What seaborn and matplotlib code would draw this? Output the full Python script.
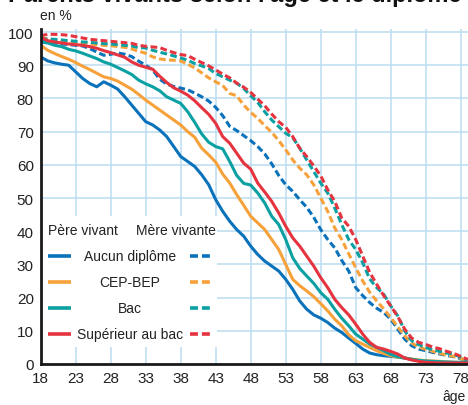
import numpy as np
import pandas as pd
import matplotlib
matplotlib.use("Agg")
import matplotlib.pyplot as plt
import seaborn as sns
from matplotlib.patches import Rectangle
from matplotlib import font_manager

ages = list(range(18, 80))

pere_aucun = [92.5, 91.3, 90.7, 90.3, 90.0, 88.0, 86.0, 84.5, 83.5, 85.0, 84.0, 82.8, 80.5, 78.0, 75.5, 73.0,
              72.0, 70.5, 68.5, 65.5, 62.5, 61.0, 59.5, 57.0, 54.0, 49.5, 46.0, 43.0, 40.5, 38.5, 35.5, 33.0,
              31.0, 29.5, 28.0, 25.5, 22.5, 19.0, 16.5, 14.8, 13.8, 12.5, 10.8, 9.5, 7.8, 6.2, 4.5, 3.3,
              2.8, 2.5, 2.3, 2.1, 1.8, 1.4, 1.0, 0.8, 0.7, 0.6, 0.5, 0.5, 0.4, 0.3]
pere_cep = [96.0, 94.5, 93.5, 92.6, 91.8, 90.8, 89.7, 88.7, 87.6, 86.5, 86.0, 85.2, 84.0, 82.8, 81.2, 79.5,
            78.0, 76.5, 75.0, 73.5, 72.0, 70.0, 68.3, 65.0, 63.0, 60.8, 57.2, 54.5, 51.0, 47.8, 44.5, 42.5,
            40.5, 37.5, 34.5, 30.0, 25.5, 23.6, 22.0, 20.3, 18.2, 16.0, 13.5, 11.5, 8.8, 7.0, 6.0, 5.0,
            4.0, 3.2, 2.5, 2.1, 1.8, 1.5, 1.2, 1.0, 0.9, 0.8, 0.6, 0.5, 0.5, 0.4]
pere_bac = [97.0, 96.7, 96.0, 95.6, 94.8, 94.3, 93.6, 92.8, 92.0, 91.0, 90.3, 89.3, 88.3, 87.2, 85.5, 84.4,
            83.5, 82.3, 80.5, 79.5, 78.5, 76.0, 72.8, 69.3, 66.8, 65.5, 64.8, 61.0, 56.8, 54.4, 53.9, 51.5,
            48.5, 44.5, 42.0, 37.5, 32.0, 28.8, 26.5, 24.3, 21.5, 19.5, 16.5, 13.8, 11.5, 9.0, 7.5, 6.0,
            5.0, 4.0, 2.9, 2.2, 1.8, 1.4, 1.1, 0.9, 0.8, 0.7, 0.6, 0.5, 0.5, 0.4]
pere_sup = [98.4, 97.4, 97.0, 96.7, 96.4, 96.2, 96.0, 95.6, 95.1, 94.4, 93.8, 93.1, 92.4, 91.0, 90.0, 89.4,
            88.8, 86.7, 84.8, 83.2, 82.2, 81.0, 79.3, 77.2, 75.2, 72.5, 68.5, 66.5, 63.5, 60.5, 58.7, 54.5,
            51.8, 49.0, 45.5, 41.5, 38.0, 35.5, 32.5, 29.5, 26.0, 23.0, 19.5, 17.0, 14.8, 12.0, 9.0, 6.5,
            5.0, 4.5, 3.8, 3.0, 1.8, 1.2, 0.8, 0.5, 0.4, 0.3, 0.3, 0.3, 0.3, 0.3]

mere_aucun = [97.4, 97.0, 96.7, 96.4, 96.2, 96.0, 95.8, 95.0, 94.0, 93.0, 93.3, 93.7, 93.3, 92.6, 91.2, 90.0,
              88.5, 85.8, 84.3, 83.6, 83.1, 82.6, 81.6, 80.5, 79.2, 77.3, 74.8, 71.6, 70.3, 68.8, 67.3, 65.5,
              63.3, 60.3, 56.8, 54.0, 52.0, 49.5, 47.2, 44.2, 40.5, 37.5, 35.0, 31.2, 28.0, 23.0, 20.6, 18.5,
              16.8, 15.5, 13.5, 10.5, 7.5, 5.5, 4.5, 4.0, 3.5, 3.0, 2.6, 2.2, 1.6, 1.0]
mere_cep = [98.3, 97.9, 97.5, 97.2, 96.9, 96.7, 96.5, 96.4, 96.2, 96.0, 95.9, 95.6, 95.4, 94.9, 94.2, 93.6,
            92.5, 91.9, 91.6, 91.5, 91.3, 90.3, 89.2, 87.7, 86.2, 85.0, 83.9, 81.5, 80.8, 78.0, 75.8, 74.0,
            71.8, 69.8, 67.3, 64.5, 61.5, 59.0, 57.0, 54.0, 50.0, 46.0, 41.0, 37.5, 33.2, 29.0, 25.0, 21.6,
            19.0, 16.6, 14.0, 11.2, 8.5, 6.3, 5.1, 4.4, 3.8, 3.2, 2.7, 2.3, 1.7, 1.0]
mere_bac = [97.9, 97.9, 97.8, 97.6, 97.4, 97.2, 97.0, 96.9, 96.7, 96.5, 96.4, 96.2, 96.0, 95.8, 95.3, 95.2,
            94.5, 93.9, 93.4, 92.8, 92.2, 91.5, 90.5, 89.8, 89.0, 87.5, 86.5, 85.5, 84.6, 83.0, 80.8, 78.8,
            76.0, 73.5, 71.5, 69.5, 68.2, 65.0, 61.5, 58.0, 54.5, 51.5, 47.0, 42.0, 37.5, 34.5, 30.5, 25.6,
            23.0, 21.0, 17.5, 14.5, 10.0, 7.0, 5.8, 5.0, 4.3, 3.8, 3.3, 3.0, 2.0, 1.0]
mere_sup = [98.9, 99.3, 99.3, 99.2, 99.0, 98.6, 98.2, 97.8, 97.6, 97.4, 97.2, 97.0, 96.8, 96.6, 96.0, 95.7,
            95.5, 95.3, 94.5, 93.8, 93.2, 92.9, 91.8, 90.8, 89.8, 88.6, 87.3, 86.2, 84.6, 83.4, 81.8, 79.8,
            77.8, 75.3, 73.0, 71.3, 68.5, 65.0, 62.5, 59.7, 56.7, 52.5, 49.0, 44.0, 41.5, 37.5, 32.5, 27.6,
            24.0, 20.6, 17.5, 14.3, 10.5, 7.8, 6.5, 5.9, 5.1, 4.6, 3.8, 3.2, 2.3, 1.4]

diplomes = ["Aucun diplôme", "CEP-BEP", "Bac", "Supérieur au bac"]
parents = ["Père vivant", "Mère vivante"]
x_ticks = list(range(18, 79, 5))
y_ticks = list(range(0, 101, 10))

colors = ["#0a72ba", "#f7a13b", "#0ba0a2", "#e5343f"]

series = {
    ("Père vivant", "Aucun diplôme"): pere_aucun,
    ("Père vivant", "CEP-BEP"): pere_cep,
    ("Père vivant", "Bac"): pere_bac,
    ("Père vivant", "Supérieur au bac"): pere_sup,
    ("Mère vivante", "Aucun diplôme"): mere_aucun,
    ("Mère vivante", "CEP-BEP"): mere_cep,
    ("Mère vivante", "Bac"): mere_bac,
    ("Mère vivante", "Supérieur au bac"): mere_sup,
}
rows = []
for (p, d), vals in series.items():
    for a, v in zip(ages, vals):
        rows.append({"age": a, "val": v, "parent": p, "diplome": d})
df = pd.DataFrame(rows)

sns.set_style("white")
installed = {f.name for f in font_manager.fontManager.ttflist}
fam = [f for f in ["Liberation Sans Narrow", "Liberation Sans"] if f in installed] + ["DejaVu Sans"]
plt.rcParams["font.family"] = fam

fig = plt.figure(figsize=(4.68, 4.06), dpi=100)
ax = fig.add_axes([40.7 / 468, 1 - 365 / 406, 1 - 40.7 / 468, (365 - 29.7) / 406])

palette = dict(zip(diplomes, colors))
dash = (2.2, 1.1)
sns.lineplot(data=df, x="age", y="val", hue="diplome", style="parent",
             palette=palette, hue_order=diplomes, style_order=parents,
             dashes={"Père vivant": "", "Mère vivante": dash},
             linewidth=2.2, legend=False, ax=ax, zorder=3)

ax.set_xlim(18, 79.04)
ax.set_ylim(0, 101)
ax.set_xticks(x_ticks)
ax.set_yticks(y_ticks)
ax.grid(True, color="#bcdcf1", linewidth=1.1)
ax.set_axisbelow(True)
for s in ["top", "right"]:
    ax.spines[s].set_visible(False)
for s in ["left", "bottom"]:
    ax.spines[s].set_color("#1a1a1a")
    ax.spines[s].set_linewidth(2.0)
    ax.spines[s].set_zorder(5)
ax.tick_params(axis="both", length=0, labelsize=11, colors="#222222", pad=5)
ax.set_xlabel("")
ax.set_ylabel("")

# legend box
ax.add_patch(Rectangle((0.0, 0.05), 0.412, 0.391, transform=ax.transAxes,
                       facecolor="white", edgecolor="none", zorder=2.5))
fs = 10
ax.text(0.018, 0.40, "Père vivant", transform=ax.transAxes, fontsize=fs,
        va="center", ha="left", color="#222222", zorder=4)
ax.text(0.409, 0.40, "Mère vivante", transform=ax.transAxes, fontsize=fs,
        va="center", ha="right", color="#222222", zorder=4)
row_y = [0.321, 0.245, 0.167, 0.0895]
for d, c, yy in zip(diplomes, colors, row_y):
    ax.plot([0.018, 0.071], [yy, yy], transform=ax.transAxes, color=c,
            linewidth=2.6, solid_capstyle="butt", zorder=4)
    ax.plot([0.349, 0.403], [yy, yy], transform=ax.transAxes, color=c,
            linewidth=2.6, linestyle=(0, dash), zorder=4)
    ax.text(0.209, yy, d, transform=ax.transAxes, fontsize=fs, va="center",
            ha="center", color="#222222", zorder=4)

fig.text(40 / 468, 1 - 16 / 406, "en %", fontsize=10, va="center", ha="left", color="#222222")
fig.text(466 / 468, 1 - 397 / 406, "âge", fontsize=10, va="center", ha="right", color="#222222")
fig.text(8 / 468, 1 - 2 / 406, "Parents vivants selon l'âge et le diplôme", fontsize=17,
         fontweight="bold", va="baseline", ha="left", color="#111111")

fig.savefig("out.png", dpi=100)
